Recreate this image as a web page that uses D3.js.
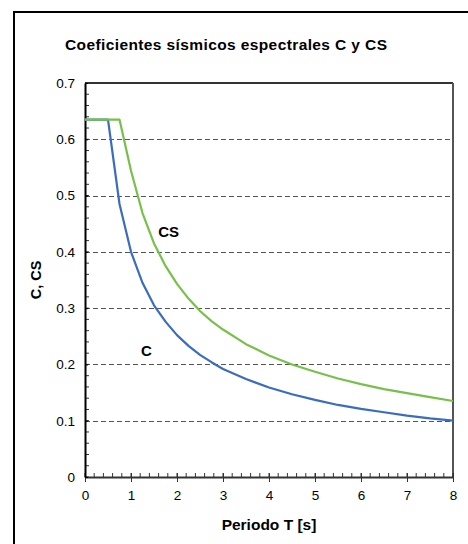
<!DOCTYPE html>
<html>
<head>
<meta charset="utf-8">
<script src="https://cdn.jsdelivr.net/npm/d3@7"></script>
<style>
  body { margin: 0; background: #fff; }
  text { font-family: "Liberation Sans", Arial, sans-serif; }
</style>
</head>
<body>
<script>
// periods (s) and spectral coefficients
var periods = [0, 0.5, 0.75, 1, 1.25, 1.5, 1.75, 2, 2.25, 2.5, 2.75, 3, 3.5, 4, 4.5, 5, 5.5, 6, 6.5, 7, 7.5, 8];
var valuesC = [0.635, 0.635, 0.485, 0.400, 0.345, 0.305, 0.276, 0.252, 0.233, 0.217, 0.204, 0.192, 0.174, 0.159, 0.147, 0.137, 0.128, 0.121, 0.115, 0.109, 0.104, 0.100];
var valuesCS = [0.635, 0.635, 0.635, 0.544, 0.469, 0.415, 0.375, 0.343, 0.317, 0.295, 0.277, 0.262, 0.236, 0.216, 0.200, 0.187, 0.175, 0.165, 0.156, 0.149, 0.142, 0.135];
var xTicks = [0, 1, 2, 3, 4, 5, 6, 7, 8];
var yTicks = [0, 0.1, 0.2, 0.3, 0.4, 0.5, 0.6, 0.7];
var seriesLabels = [
  { key: "CS", t: 1.59, v: 0.427 },
  { key: "C", t: 1.22, v: 0.215 }
];

var width = 468,
  height = 544;

var svg = d3.select("body").append("svg")
  .attr("width", width)
  .attr("height", height);

// outer chart frame (runs off the picture on right and bottom)
svg.append("rect")
  .attr("x", 14).attr("y", 12)
  .attr("width", 470).attr("height", 550)
  .attr("fill", "none")
  .attr("stroke", "#000")
  .attr("stroke-width", 2);

var x = d3.scaleLinear().domain([0, 8]).range([85, 453]);
var y = d3.scaleLinear().domain([0, 0.7]).range([477, 83]);

// dashed gridlines
svg.append("g").selectAll("line")
  .data(yTicks.filter(function (d) { return d > 0 && d < 0.7; }))
  .enter().append("line")
  .attr("x1", x(0)).attr("x2", x(8))
  .attr("y1", function (d) { return Math.round(y(d)) + 0.5; })
  .attr("y2", function (d) { return Math.round(y(d)) + 0.5; })
  .attr("stroke", "#555")
  .attr("stroke-dasharray", "5,3");

// top and right frame of the plot area
svg.append("line")
  .attr("x1", x(0)).attr("x2", x(8))
  .attr("y1", y(0.7)).attr("y2", y(0.7))
  .attr("stroke", "#333").attr("stroke-width", 2);
svg.append("line")
  .attr("x1", x(8)).attr("x2", x(8))
  .attr("y1", y(0.7)).attr("y2", y(0))
  .attr("stroke", "#555").attr("stroke-width", 2);

// minor ticks
var xMinor = d3.range(0, 8.001, 0.2);
svg.append("g").selectAll("line")
  .data(xMinor)
  .enter().append("line")
  .attr("x1", function (d) { return x(d); })
  .attr("x2", function (d) { return x(d); })
  .attr("y1", y(0)).attr("y2", y(0) - 4)
  .attr("stroke", "#333");
var yMinor = d3.range(0, 0.7001, 0.02);
svg.append("g").selectAll("line")
  .data(yMinor)
  .enter().append("line")
  .attr("y1", function (d) { return y(d); })
  .attr("y2", function (d) { return y(d); })
  .attr("x1", x(0)).attr("x2", x(0) + 4)
  .attr("stroke", "#333");

// axes
var xAxis = svg.append("g")
  .attr("transform", "translate(0," + y(0) + ")")
  .call(d3.axisBottom(x).tickValues(xTicks).tickSize(5).tickSizeOuter(0).tickPadding(8).tickFormat(d3.format("d")));
var yAxis = svg.append("g")
  .attr("transform", "translate(" + x(0) + ",0)")
  .call(d3.axisLeft(y).tickValues(yTicks).tickSize(5).tickSizeOuter(0).tickPadding(5)
    .tickFormat(function (d) { return d === 0 ? "0" : d3.format(".1f")(d); }));

xAxis.select(".domain").attr("stroke", "#333").attr("stroke-width", 2);
yAxis.select(".domain").attr("stroke", "#000").attr("stroke-width", 2);
xAxis.selectAll(".tick line").attr("stroke", "#333").attr("y1", -4);
yAxis.selectAll(".tick line").attr("stroke", "#000").attr("x2", 3);
[xAxis, yAxis].forEach(function (a) {
  a.selectAll(".tick text")
    .attr("fill", "#000")
    .style("font-size", "13.5px")
    .style("font-family", "'Liberation Sans', Arial, sans-serif");
});

// curves
var line = d3.line()
  .x(function (d) { return x(d.t); })
  .y(function (d) { return y(d.v); });

var dataC = periods.map(function (t, i) { return { t: t, v: valuesC[i] }; });
var dataCS = periods.map(function (t, i) { return { t: t, v: valuesCS[i] }; });

svg.append("path")
  .datum(dataC)
  .attr("d", line)
  .attr("fill", "none")
  .attr("stroke", "#3a6cc0")
  .attr("stroke-width", 2.2)
  .attr("stroke-linejoin", "round");

svg.append("path")
  .datum(dataCS)
  .attr("d", line)
  .attr("fill", "none")
  .attr("stroke", "#77c04a")
  .attr("stroke-width", 2.2)
  .attr("stroke-linejoin", "round");

// series labels
svg.selectAll("text.lbl")
  .data(seriesLabels)
  .enter().append("text")
  .attr("class", "lbl")
  .attr("x", function (d) { return x(d.t); })
  .attr("y", function (d) { return y(d.v); })
  .style("font-size", "15px")
  .style("font-weight", "bold")
  .text(function (d) { return d.key; });

// titles
svg.append("text")
  .attr("x", 65).attr("y", 50)
  .attr("textLength", 322)
  .attr("lengthAdjust", "spacing")
  .style("font-size", "15.5px")
  .style("font-weight", "bold")
  .text("Coeficientes sísmicos espectrales C y CS");

svg.append("text")
  .attr("x", (x(0) + x(8)) / 2).attr("y", 530)
  .style("text-anchor", "middle")
  .style("font-size", "15.5px")
  .style("font-weight", "bold")
  .text("Periodo T [s]");

svg.append("text")
  .attr("transform", "translate(40.5," + (y(0) + y(0.7)) / 2 + ") rotate(-90)")
  .style("text-anchor", "middle")
  .style("font-size", "14.5px")
  .style("font-weight", "bold")
  .text("C, CS");
</script>
</body>
</html>
